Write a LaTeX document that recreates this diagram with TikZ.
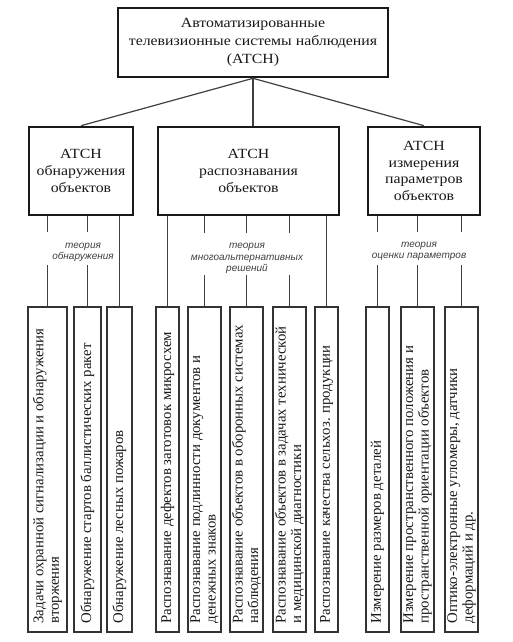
\documentclass[tikz,border=0pt]{standalone}
\usepackage{fontspec}
\setmainfont{Liberation Serif}
\newfontfamily\headfont[FakeStretch=1.13]{Liberation Serif}
\newfontfamily\labfont{Liberation Sans}
\begin{document}
\begin{tikzpicture}[x=1pt,y=-1pt,
  head/.style={draw=black!90, line width=2.6pt, align=center, inner sep=0pt, text=black!90},
  leaf/.style={draw=black!80, line width=1.3pt, inner sep=0pt, minimum height=325pt},
  leaftext/.style={rotate=90, anchor=west, align=left, inner sep=0pt, text=black!90,
    font=\fontsize{14.8}{15.5}\selectfont},
  conn/.style={draw=black!75, line width=1.2pt},
  theory/.style={font=\labfont\itshape\fontsize{10}{11.5}\selectfont, text=black!75, align=center, inner sep=0pt}]
\useasboundingbox (0,0) rectangle (512,642);
\fill[white] (0,0) rectangle (512,642);

% headers
\node[head, minimum width=270pt, minimum height=69pt, font=\headfont\fontsize{14}{18}\selectfont] (top) at (253,42.5)
  {Автоматизированные\\телевизионные системы наблюдения\\(АТСН)};
\node[head, minimum width=104pt, minimum height=88pt, font=\headfont\fontsize{14}{17}\selectfont] (L) at (81,171)
  {АТСН\\обнаружения\\объектов};
\node[head, minimum width=181pt, minimum height=88pt, font=\headfont\fontsize{14}{17}\selectfont] (M) at (248.5,171)
  {АТСН\\распознавания\\объектов};
\node[head, minimum width=112pt, minimum height=88pt, font=\headfont\fontsize{14}{16.5}\selectfont] (R) at (424,171)
  {АТСН\\измерения\\параметров\\объектов};

\draw[conn] (top.south) -- (L.north);
\draw[conn] (top.south) -- (top.south |- M.north);
\draw[conn] (top.south) -- (R.north);

% leaves
\node[leaf, minimum width=39pt] (b1) at (47.5,469.5) {};
\node[leaf, minimum width=27pt] (b2) at (87.5,469.5) {};
\node[leaf, minimum width=25pt] (b3) at (119.5,469.5) {};
\node[leaf, minimum width=23pt] (b4) at (167.5,469.5) {};
\node[leaf, minimum width=33pt] (b5) at (204.5,469.5) {};
\node[leaf, minimum width=33pt] (b6) at (246.5,469.5) {};
\node[leaf, minimum width=33pt] (b7) at (289.5,469.5) {};
\node[leaf, minimum width=23pt] (b8) at (326.5,469.5) {};
\node[leaf, minimum width=23pt] (b9) at (377.5,469.5) {};
\node[leaf, minimum width=33pt] (b10) at (417.5,469.5) {};
\node[leaf, minimum width=33pt] (b11) at (461.5,469.5) {};

\node[leaftext] (t1) at ([yshift=9pt]b1.south) {Задачи охранной сигнализации и обнаружения\\вторжения};
\node[leaftext] (t2) at ([yshift=9pt]b2.south) {Обнаружение стартов баллистических ракет};
\node[leaftext] (t3) at ([yshift=9pt]b3.south) {Обнаружение лесных пожаров};
\node[leaftext] (t4) at ([yshift=9pt]b4.south) {Распознавание дефектов заготовок микросхем};
\node[leaftext] (t5) at ([yshift=9pt]b5.south) {Распознавание подлинности документов и\\денежных знаков};
\node[leaftext] (t6) at ([yshift=9pt]b6.south) {Распознавание объектов в оборонных системах\\наблюдения};
\node[leaftext] (t7) at ([yshift=9pt]b7.south) {Распознавание объектов в задачах технической\\и медицинской диагностики};
\node[leaftext] (t8) at ([yshift=9pt]b8.south) {Распознавание качества сельхоз. продукции};
\node[leaftext] (t9) at ([yshift=9pt]b9.south) {Измерение размеров деталей};
\node[leaftext] (t10) at ([yshift=9pt]b10.south) {Измерение пространственного положения и\\пространственной ориентации объектов};
\node[leaftext] (t11) at ([yshift=9pt]b11.south) {Оптико-электронные угломеры, датчики\\деформаций и др.};

% theory labels
\node[theory] (th1) at (83,252.5) {теория\\обнаружения};
\node[theory] (th2) at (247,258.5) {теория\\многоальтернативных\\решений};
\node[theory] (th3) at (419,251.5) {теория\\оценки параметров};

% connectors to leaves
\foreach \b in {b1,b2} {
  \draw[conn] (L.south -| \b.north) -- (\b.north |- 0,232);
  \draw[conn] (\b.north |- 0,265) -- (\b.north);
}
\draw[conn] (L.south -| b3.north) -- (b3.north);
\draw[conn] (M.south -| b4.north) -- (b4.north);
\foreach \b in {b5,b6,b7} {
  \draw[conn] (M.south -| \b.north) -- (\b.north |- 0,233);
  \draw[conn] (\b.north |- 0,275) -- (\b.north);
}
\draw[conn] (M.south -| b8.north) -- (b8.north);
\foreach \b in {b9,b10,b11} {
  \draw[conn] (R.south -| \b.north) -- (\b.north |- 0,232);
  \draw[conn] (\b.north |- 0,265) -- (\b.north);
}
\end{tikzpicture}
\end{document}
